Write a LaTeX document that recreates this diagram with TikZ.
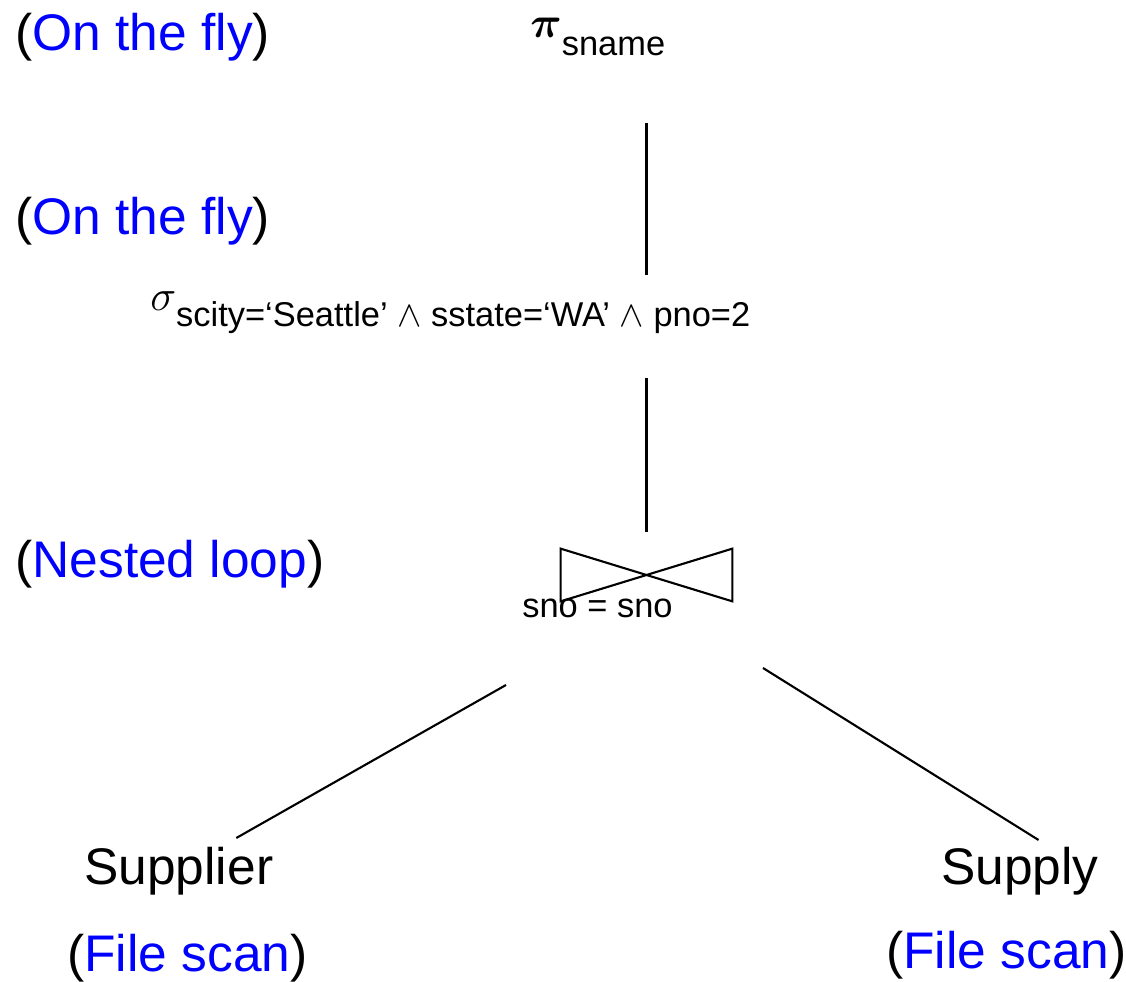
\documentclass[tikz,border=0pt]{standalone}
\usepackage{amsmath}
\usepackage{fontspec}
\setmainfont{Liberation Sans}
\usetikzlibrary{calc}

\newcommand{\bigfont}{\fontsize{29.3}{35}\selectfont}
\newcommand{\subfont}{\fontsize{19.6}{23}\selectfont}
\newcommand{\how}[1]{(\textcolor{blue}{#1})}

\tikzstyle{annot} = [anchor=base west, 
inner sep=0pt, 
font=\bigfont]
\tikzstyle{relation} = [anchor=base west, 
inner sep=0pt, 
font=\bigfont]
\tikzstyle{operator} = [anchor=base west, 
inner sep=0pt]
\tikzstyle{joinbox} = [minimum width=3.42cm, 
minimum height=1.04cm, 
inner sep=0pt]
\tikzstyle{edge} = [line width=1.2pt]

\begin{document}
\begin{tikzpicture}[x=0.02cm, y=-0.02cm]

\useasboundingbox (0,0) rectangle (1126,982);

\node (fly1) [annot] at (15,51) {\how{On the fly}};
\node (fly2) [annot] at (15,235) {\how{On the fly}};
\node (nested) [annot] at (15,578) {\how{Nested loop}};

\node (proj) [operator] at (530,38) {{\fontsize{31}{34}\selectfont$\boldsymbol{\pi}$}\raisebox{-9.7pt}{\subfont sname}};
\node (select) [operator] at (150,311) {{\fontsize{34}{38}\selectfont$\sigma$}\raisebox{-9pt}{\subfont scity=‘Seattle’ $\wedge$ sstate=‘WA’ $\wedge$ pno=2}};

\node (join) [joinbox] at (646.5,575) {};
\node (cond) [operator, font=\subfont] at (522,618) {sno = sno};

\node (supplier) [relation] at (84,884) {Supplier};
\node (supply) [relation] at (941,884) {Supply};
\node (scan1) [annot] at (67,971) {\how{File scan}};
\node (scan2) [annot] at (886,968) {\how{File scan}};

\draw [edge] (join.south west) -- (join.north west) -- (join.south east) -- (join.north east) -- cycle;

\draw [edge, shorten <=1.70cm, shorten >=0.72cm] (proj.base -| join.center) -- (select.base -| join.center);
\draw [edge, shorten <=1.34cm, shorten >=0.34cm] (select.base -| join.center) -- (join.north);
\draw [edge] ($(join.center)+(-140.5,110)$) -- ($(supplier.base)+(57.5,-46)$);
\draw [edge] ($(join.center)+(116.5,93)$) -- ($(supply.base)+(18.5,-44)$);

\end{tikzpicture}
\end{document}
